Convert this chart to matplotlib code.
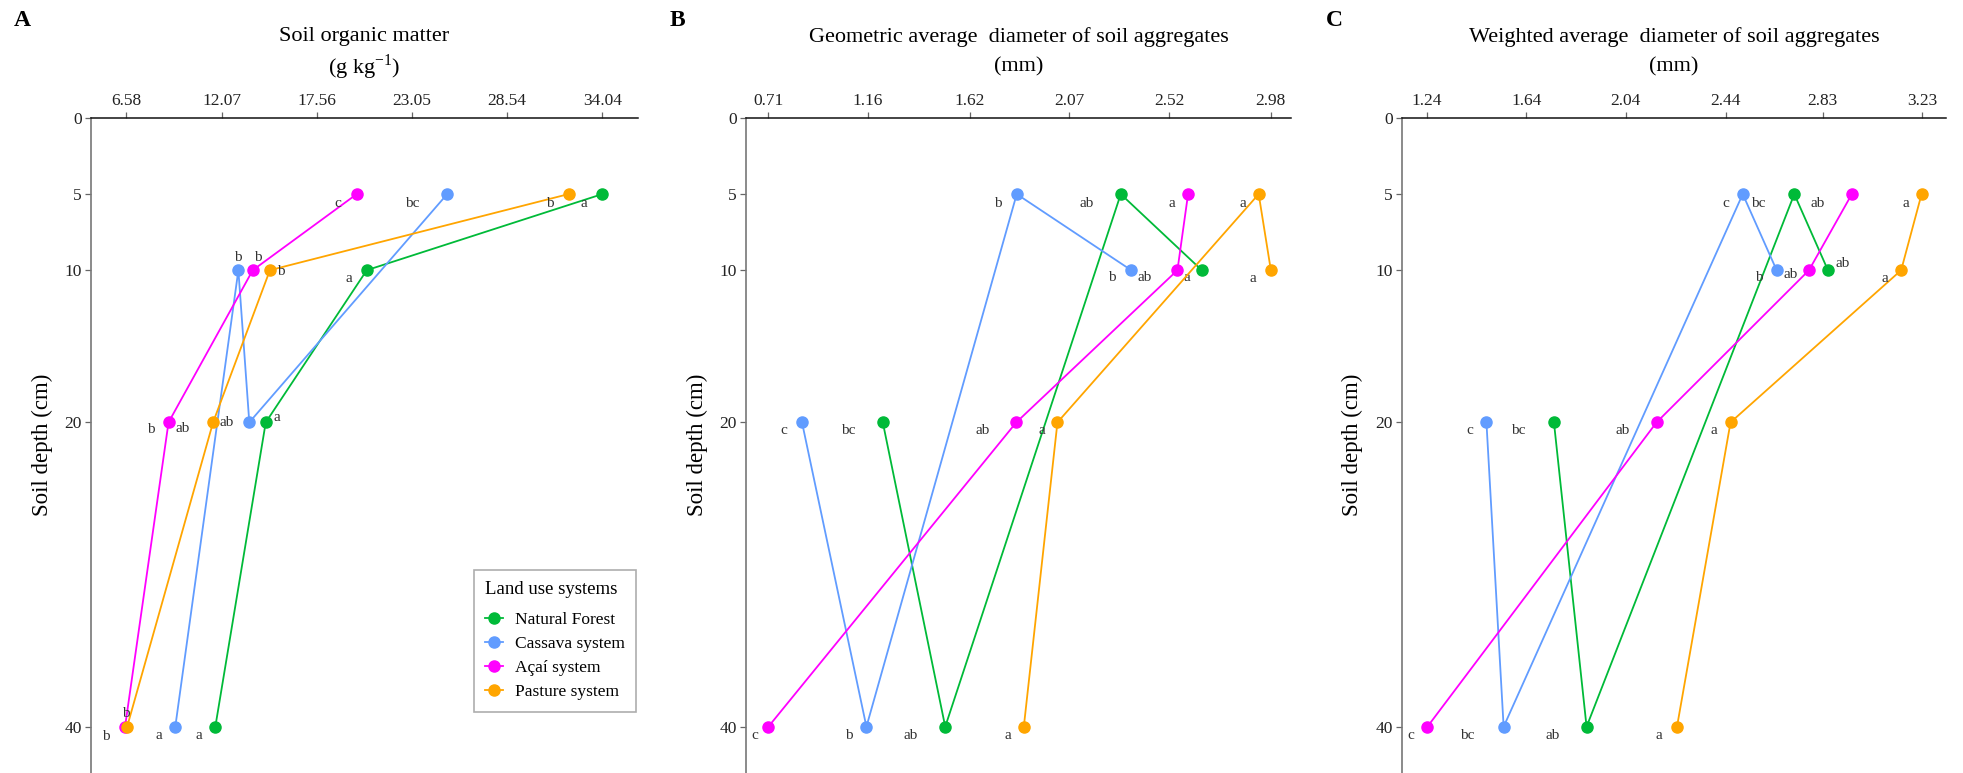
import matplotlib
matplotlib.use('Agg')
import matplotlib.pyplot as plt

plt.rcParams['font.family'] = ['Liberation Serif', 'DejaVu Serif']
plt.rcParams['mathtext.fontset'] = 'custom'
plt.rcParams['mathtext.rm'] = 'Liberation Serif'

# data
depths = [5, 10, 20, 40]
systems = ['Natural Forest', 'Cassava system', 'Açaí system', 'Pasture system']
colors = ['#00BA38', '#619CFF', '#FF00FF', '#FFA500']

# soil organic matter (g kg-1), one row per system, one value per depth
som = [[34.04, 20.45, 14.62, 11.71],
       [25.09, 13.04, 13.67, 9.40],
       [19.87, 13.87, 9.01, 6.50],
       [32.09, 14.86, 11.58, 6.62]]
som_letters = [['a', 'a', 'a', 'a'],
               ['bc', 'b', 'ab', 'a'],
               ['c', 'b', 'b', 'b'],
               ['b', 'b', 'ab', 'b']]
som_ticks = [6.58, 12.07, 17.56, 23.05, 28.54, 34.04]

# geometric mean diameter (mm)
gmd = [[2.302, 2.668, 1.227, 1.509],
       [1.832, 2.349, 0.862, 1.153],
       [2.606, 2.558, 1.830, 0.710],
       [2.925, 2.980, 2.016, 1.864]]
gmd_letters = [['ab', 'a', 'bc', 'ab'],
               ['b', 'b', 'c', 'b'],
               ['a', 'ab', 'ab', 'c'],
               ['a', 'a', 'a', 'a']]
gmd_ticks = [0.71, 1.16, 1.62, 2.07, 2.52, 2.98]

# weighted mean diameter (mm)
wmd = [[2.716, 2.851, 1.751, 1.882],
       [2.509, 2.645, 1.480, 1.549],
       [2.947, 2.775, 2.163, 1.243],
       [3.227, 3.145, 2.460, 2.245]]
wmd_letters = [['bc', 'ab', 'bc', 'ab'],
               ['c', 'b', 'c', 'bc'],
               ['ab', 'ab', 'ab', 'c'],
               ['a', 'a', 'a', 'a']]
wmd_ticks = [1.24, 1.64, 2.04, 2.44, 2.83, 3.23]

# letter offsets (pixels, y up) relative to each point
som_off = [[(-18, -9), (-18, -8), (11, 5), (-16, -9)],
           [(-35, -9), (-1, 13), (-23, 0), (-16, -9)],
           [(-19, -9), (5, 13), (-18, -7), (-19, -10)],
           [(-19, -9), (11, -1), (-30, -6), (-1, 13)]]
gmd_off = [[(-34, -9), (-15, -7), (-35, -8), (-35, -9)],
           [(-19, -9), (-19, -7), (-18, -8), (-18, -9)],
           [(-16, -9), (-33, -7), (-34, -8), (-14, -9)],
           [(-16, -9), (-18, -8), (-16, -8), (-16, -9)]]
wmd_off = [[(-36, -9), (15, 7), (-36, -8), (-34, -9)],
           [(-17, -9), (-18, -7), (-17, -8), (-36, -9)],
           [(-34, -9), (-18, -4), (-34, -8), (-17, -9)],
           [(-16, -9), (-16, -8), (-17, -8), (-18, -9)]]

W, H = 1963, 773
fig = plt.figure(figsize=(W / 100, H / 100), dpi=100)

panels = [
    dict(vals=som, letters=som_letters, ticks=som_ticks, off=som_off,
         xlim=(4.536, 36.10), left=91, right=638, tag='A', tagx=22, ylab=53,
         title=['Soil organic matter', '(g kg$^{-1}$)']),
    dict(vals=gmd, letters=gmd_letters, ticks=gmd_ticks, off=gmd_off,
         xlim=(0.609, 3.071), left=746, right=1291, tag='B', tagx=677, ylab=708,
         title=['Geometric average  diameter of soil aggregates', '(mm)']),
    dict(vals=wmd, letters=wmd_letters, ticks=wmd_ticks, off=wmd_off,
         xlim=(1.141, 3.325), left=1402, right=1946, tag='C', tagx=1334, ylab=1363,
         title=['Weighted average  diameter of soil aggregates', '(mm)']),
]

top = 118
for i, p in enumerate(panels):
    width = p['right'] - p['left']
    ax = fig.add_axes([p['left'] / W, 0, width / W, (H - top) / H])
    for s in range(len(systems)):
        # lines connect points ordered along the x axis
        pts = sorted(zip(p['vals'][s], depths))
        ax.plot([a for a, b in pts], [b for a, b in pts], color=colors[s],
                lw=1.3, marker='o', ms=8, label=systems[s], zorder=3)
        for k, d in enumerate(depths):
            ax.annotate(p['letters'][s][k], (p['vals'][s][k], d),
                        xytext=p['off'][s][k], textcoords='offset pixels',
                        ha='center', va='center', fontsize=11, color='#333333')
    ax.set_xlim(*p['xlim'])
    ax.set_ylim(43.04, 0)
    ax.xaxis.tick_top()
    ax.set_xticks(p['ticks'])
    ax.set_xticklabels([f'{t:.2f}' for t in p['ticks']])
    ax.set_yticks([0, 5, 10, 20, 40])
    ax.tick_params(axis='both', direction='out', length=4.5, width=0.9,
                   labelsize=12.5, color='#666666', labelcolor='#222222', pad=2)
    for sp in ['right', 'bottom']:
        ax.spines[sp].set_visible(False)
    ax.spines['top'].set_linewidth(1.1)
    ax.spines['top'].set_color('#111111')
    ax.spines['left'].set_linewidth(1.2)
    ax.spines['left'].set_color('#777777')
    ax.set_ylabel('Soil depth (cm)', fontsize=16.5)
    ax.yaxis.set_label_coords((p['ylab'] - p['left']) / width, (H - 445) / (H - top))

    cx = (p['left'] + width / 2) / W
    fig.text(cx, 1 - 37 / H, p['title'][0], ha='center', va='center', fontsize=16)
    fig.text(cx, 1 - 67 / H, p['title'][1], ha='center', va='center', fontsize=16)
    fig.text(p['tagx'] / W, 1 - 20 / H, p['tag'], ha='center', va='center',
             fontsize=17, fontweight='bold')

    if i == 0:
        leg = ax.legend(title='Land use systems', loc='upper left',
                        bbox_to_anchor=(474 / W, 1 - 570 / H),
                        bbox_transform=fig.transFigure, fontsize=12.5,
                        title_fontsize=13.5, fancybox=False, edgecolor='#999999',
                        handlelength=1.0, alignment='left', borderpad=0.65,
                        labelspacing=0.45, handletextpad=0.7, borderaxespad=0)
        leg.get_frame().set_linewidth(1.2)
        leg._legend_box.sep = 10

fig.savefig('out.png', dpi=100)
